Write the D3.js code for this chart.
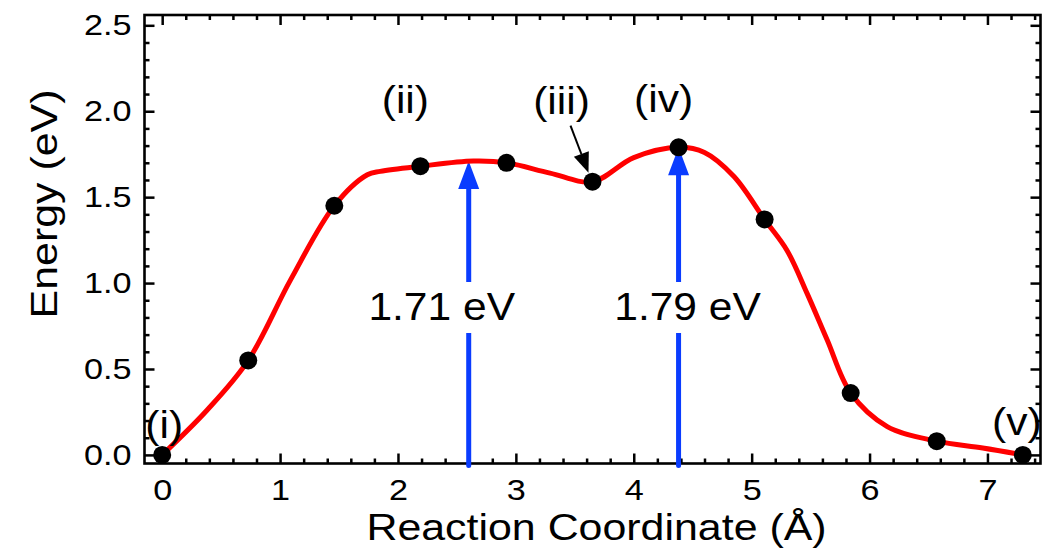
<!DOCTYPE html>
<html>
<head>
<meta charset="utf-8">
<script src="https://cdn.jsdelivr.net/npm/d3@7"></script>
<style>
  html, body { margin: 0; padding: 0; background: #fff; }
  svg { display: block; font-family: "Liberation Sans", Arial, Helvetica, sans-serif; }
</style>
</head>
<body>
<svg id="chart" width="1058" height="560"></svg>
<script>
// NEB images along the reaction path
const imageCoord = [0, 0.73, 1.46, 2.19, 2.92, 3.65, 4.38, 5.11, 5.84, 6.57, 7.30];
const imageEnergy = [0, 0.55, 1.45, 1.68, 1.70, 1.59, 1.79, 1.37, 0.36, 0.08, 0.00];

// fitted energy profile through the images
const pathCoord = [0, 0.38, 0.73, 1.09, 1.46, 1.74, 1.85, 2.19, 2.64, 2.92, 3.29, 3.65,
                   4.00, 4.38, 4.60, 4.85, 5.11, 5.30, 5.47, 5.64, 5.84, 6.15, 6.57, 6.96, 7.30];
const pathEnergy = [0, 0.26, 0.55, 1.02, 1.45, 1.63, 1.65, 1.68, 1.71, 1.70, 1.64, 1.59,
                    1.73, 1.79, 1.76, 1.62, 1.37, 1.19, 0.94, 0.67, 0.36, 0.165, 0.08, 0.04, 0.00];

// state labels and the image each one belongs to
const stateLabels = ["(i)", "(ii)", "(iii)", "(iv)", "(v)"];
const stateImage = [0, 3, 5, 6, 10];

// energy barriers
const barrierCoord = [2.60, 4.38];
const barrierEnergy = [1.71, 1.79];

// axis ticks
const xMajor = [0, 1, 2, 3, 4, 5, 6, 7];
const yMajor = [0, 0.5, 1.0, 1.5, 2.0, 2.5];

const svg = d3.select("#chart");
const x = d3.scaleLinear().domain([-0.15, 7.45]).range([144.5, 1040.5]);
const y = d3.scaleLinear().domain([-0.05, 2.56]).range([463.5, 15]);
const [x0, x1] = x.range();
const [y0, y1] = y.range();

const tickStretch = 1.18, titleStretch = 1.16, noteStretch = 1.12;

const xMinor = d3.range(-0.2, 7.5, 0.2).map(v => +v.toFixed(1))
  .filter(v => v >= -0.15 && v <= 7.45 && Math.abs(v - Math.round(v)) > 1e-6);
const yMinor = d3.range(0, 2.56, 0.1).map(v => +v.toFixed(1))
  .filter(v => Math.abs(v * 2 - Math.round(v * 2)) > 1e-6);

function styleAxis(g) {
  g.select(".domain").remove();
  g.selectAll(".tick line").attr("stroke", "#000").attr("stroke-width", 2.5);
}

// bottom axis with labels
const gxb = svg.append("g").attr("transform", `translate(0,${y0})`)
  .call(d3.axisBottom(x).tickValues(xMajor).tickSize(-10).tickPadding(16).tickFormat(d3.format("d")))
  .call(styleAxis);
gxb.selectAll(".tick text").attr("font-size", 29).attr("fill", "#000")
  .attr("transform", `scale(${tickStretch},1)`);
svg.append("g").attr("transform", `translate(0,${y0})`)
  .call(d3.axisBottom(x).tickValues(xMinor).tickSize(-5).tickFormat(""))
  .call(styleAxis);
// top axis
svg.append("g").attr("transform", `translate(0,${y1})`)
  .call(d3.axisTop(x).tickValues(xMajor).tickSize(-10).tickFormat(""))
  .call(styleAxis);
svg.append("g").attr("transform", `translate(0,${y1})`)
  .call(d3.axisTop(x).tickValues(xMinor).tickSize(-5).tickFormat(""))
  .call(styleAxis);

// left axis with labels
const gyl = svg.append("g").attr("transform", `translate(${x0},0)`)
  .call(d3.axisLeft(y).tickValues(yMajor).tickSize(-10).tickPadding(13).tickFormat(d3.format(".1f")))
  .call(styleAxis);
gyl.selectAll(".tick text").attr("font-size", 29).attr("fill", "#000")
  .each(function () {
    const t = d3.select(this);
    const tx = +t.attr("x");
    t.attr("x", 0).attr("transform", `translate(${tx},0) scale(${tickStretch},1)`);
  });
svg.append("g").attr("transform", `translate(${x0},0)`)
  .call(d3.axisLeft(y).tickValues(yMinor).tickSize(-5).tickFormat(""))
  .call(styleAxis);
// right axis
svg.append("g").attr("transform", `translate(${x1},0)`)
  .call(d3.axisRight(y).tickValues(yMajor).tickSize(-10).tickFormat(""))
  .call(styleAxis);
svg.append("g").attr("transform", `translate(${x1},0)`)
  .call(d3.axisRight(y).tickValues(yMinor).tickSize(-5).tickFormat(""))
  .call(styleAxis);

// frame
svg.append("rect").attr("x", x0).attr("y", y1).attr("width", x1 - x0).attr("height", y0 - y1)
  .attr("fill", "none").attr("stroke", "#000").attr("stroke-width", 2.6);

// axis titles
svg.append("text")
  .attr("transform", `translate(${(x0 + x1) / 2 + 4},540) scale(${titleStretch},1)`)
  .attr("text-anchor", "middle").attr("font-size", 37).attr("fill", "#000")
  .text("Reaction Coordinate (Å)");
svg.append("text")
  .attr("transform", `translate(57,204) rotate(-90) scale(${titleStretch},1)`)
  .attr("text-anchor", "middle").attr("font-size", 37).attr("fill", "#000")
  .text("Energy (eV)");

// barrier arrows with value labels
const blue = "#0a3cff";
const headLen = 28, headHalf = 10.5;
barrierCoord.forEach((c, i) => {
  const px = x(c), tip = y(barrierEnergy[i]);
  const g = svg.append("g");
  g.append("line").attr("x1", px).attr("x2", px).attr("y1", y0 + 2).attr("y2", tip + headLen - 2)
    .attr("stroke", blue).attr("stroke-width", 5).attr("stroke-linecap", "round");
  g.append("path")
    .attr("d", `M${px},${tip} L${px - headHalf},${tip + headLen} L${px + headHalf},${tip + headLen} Z`)
    .attr("fill", blue);
});
const labelOffsetX = [-27, 9];
barrierCoord.forEach((c, i) => {
  const g = svg.append("g")
    .attr("transform", `translate(${x(c) + labelOffsetX[i]},320) scale(${noteStretch},1)`);
  const t = g.append("text").attr("text-anchor", "middle").attr("font-size", 38).attr("fill", "#000")
    .text(`${d3.format(".2f")(barrierEnergy[i])} eV`);
  const b = t.node().getBBox();
  g.insert("rect", "text").attr("x", b.x - 2).attr("y", -38).attr("width", b.width + 4).attr("height", 51)
    .attr("fill", "#fff");
});

// energy profile
const line = d3.line().x(d => x(d[0])).y(d => y(d[1])).curve(d3.curveCatmullRom.alpha(0.5));
svg.append("path").datum(d3.zip(pathCoord, pathEnergy))
  .attr("d", line).attr("fill", "none").attr("stroke", "#ff0000")
  .attr("stroke-width", 5).attr("stroke-linejoin", "round").attr("stroke-linecap", "round");

// images
svg.append("g").selectAll("circle").data(d3.zip(imageCoord, imageEnergy)).join("circle")
  .attr("cx", d => x(d[0])).attr("cy", d => y(d[1])).attr("r", 9).attr("fill", "#000");

// state labels, placed relative to their image
const labelDx = [2, -15, -31, -15, -6];
const labelDy = [-17, -53, -68, -35, -20];
stateLabels.forEach((s, i) => {
  const k = stateImage[i];
  svg.append("text")
    .attr("transform", `translate(${x(imageCoord[k]) + labelDx[i]},${y(imageEnergy[k]) + labelDy[i]}) scale(${noteStretch},1)`)
    .attr("text-anchor", "middle").attr("font-size", 38).attr("fill", "#000").text(s);
});

// pointer from (iii) to its image
{
  const k = stateImage[2];
  const tx = x(imageCoord[k]) - 4, ty = y(imageEnergy[k]) - 9;
  const sx = tx - 18, sy = ty - 47;
  const ang = Math.atan2(ty - sy, tx - sx);
  const hl = 20, hw = 8;
  const bx = tx - hl * Math.cos(ang), by = ty - hl * Math.sin(ang);
  svg.append("line").attr("x1", sx).attr("y1", sy).attr("x2", bx).attr("y2", by)
    .attr("stroke", "#000").attr("stroke-width", 2);
  svg.append("path")
    .attr("d", `M${tx},${ty} L${bx + hw * Math.sin(ang)},${by - hw * Math.cos(ang)} L${bx - hw * Math.sin(ang)},${by + hw * Math.cos(ang)} Z`)
    .attr("fill", "#000");
}
</script>
</body>
</html>
